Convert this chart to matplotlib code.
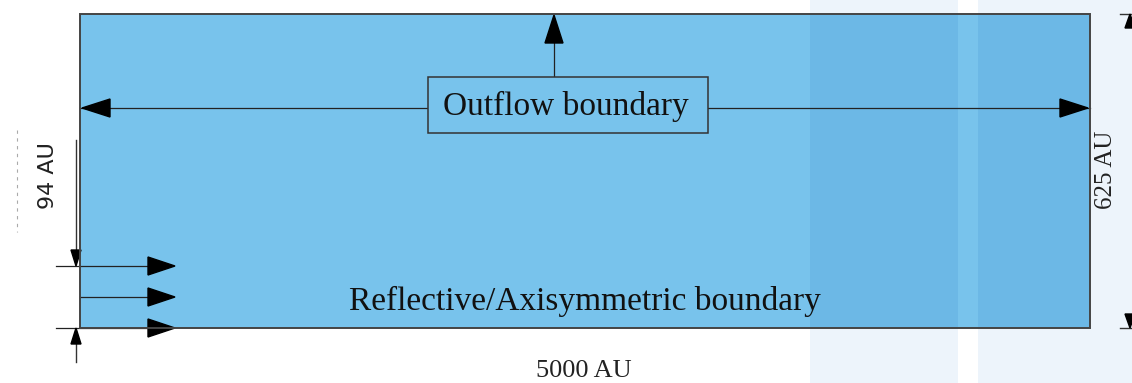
import matplotlib.pyplot as plt
from matplotlib.patches import Rectangle, Polygon

# labels / dimensions of the computational domain
box_label = 'Outflow boundary'
bottom_label = 'Reflective/Axisymmetric boundary'
dim_labels = ['5000 AU', '625 AU', '94 AU']
jet_rows = [266, 297, 328]          # inflow arrows (pixel rows)

W, H = 1132, 383
fig = plt.figure(figsize=(W / 100, H / 100), dpi=100)
ax = fig.add_axes([0, 0, 1, 1])
ax.set_xlim(0, W)
ax.set_ylim(H, 0)
ax.axis('off')

fill = '#78c3ec'
dark = '#6cb8e6'
pale = '#edf4fb'
line_kw = dict(color='#222222', lw=0.9)


def head(tip, direction, length=28, width=18):
    x, y = tip
    dx, dy = direction
    bx, by = x - dx * length, y - dy * length
    px, py = -dy * width / 2, dx * width / 2
    ax.add_patch(Polygon([(x, y), (bx + px, by + py), (bx - px, by - py)],
                         closed=True, color='black', zorder=5))


# pale background bands on the right
ax.add_patch(Rectangle((810, 0), 148, H, color=pale, lw=0, zorder=0))
ax.add_patch(Rectangle((978, 0), 154, H, color=pale, lw=0, zorder=0))

# domain
ax.add_patch(Rectangle((80, 14), 1010, 314, facecolor=fill, edgecolor='none', zorder=1))
ax.add_patch(Rectangle((810, 14), 148, 314, facecolor=dark, edgecolor='none', zorder=1))
ax.add_patch(Rectangle((978, 14), 112, 314, facecolor=dark, edgecolor='none', zorder=1))
ax.add_patch(Rectangle((80, 14), 1010, 314, facecolor='none', edgecolor='#444444',
                       lw=1.4, zorder=6))

# outflow arrows
ax.plot([80, 428], [108, 108], **line_kw, zorder=4)
ax.plot([708, 1090], [108, 108], **line_kw, zorder=4)
head((82, 108), (-1, 0))
head((1088, 108), (1, 0))
ax.plot([554, 554], [40, 77], **line_kw, zorder=4)
head((554, 15), (0, -1), length=28, width=18)
ax.add_patch(Rectangle((428, 77), 280, 56, facecolor=fill, edgecolor='#333333',
                       lw=1.1, zorder=5))
ax.text(566, 106, box_label, ha='center', va='center', fontsize=24,
        family='Liberation Serif', color='#111111', zorder=7)

# inflow (jet) arrows
for i, yy in enumerate(jet_rows):
    x0 = 80 if i == 1 else 56
    ax.plot([x0, 160], [yy, yy], **line_kw, zorder=4)
    head((175, yy), (1, 0), length=27, width=18)

# 94 AU dimension
ax.plot([76, 76], [140, 260], color='#333333', lw=1.0, zorder=4)
head((76, 266), (0, 1), length=16, width=10)
ax.plot([76, 76], [334, 362], color='#333333', lw=1.0, zorder=4)
head((76, 328), (0, -1), length=16, width=10)
ax.text(48, 176, dim_labels[2], rotation=90, ha='center', va='center',
        fontsize=16, family='DejaVu Sans', color='#222222')
ax.plot([17, 17], [130, 232], color='#aaaaaa', lw=0.8, ls=(0, (3, 4)))

# 625 AU dimension
ax.plot([1120, 1132], [14, 14], color='#333333', lw=1.0)
ax.plot([1120, 1132], [328, 328], color='#333333', lw=1.0)
head((1130, 14), (0, -1), length=14, width=10)
head((1130, 328), (0, 1), length=14, width=10)
ax.text(1106, 170, dim_labels[1], rotation=90, ha='center', va='center',
        fontsize=18, family='Liberation Serif', color='#222222')

# bottom labels
ax.text(585, 301, bottom_label, ha='center', va='center', fontsize=24,
        family='Liberation Serif', color='#111111', zorder=7)
ax.text(584, 371, dim_labels[0], ha='center', va='center', fontsize=19,
        family='Liberation Serif', color='#222222')

fig.savefig('out.png', dpi=100)
